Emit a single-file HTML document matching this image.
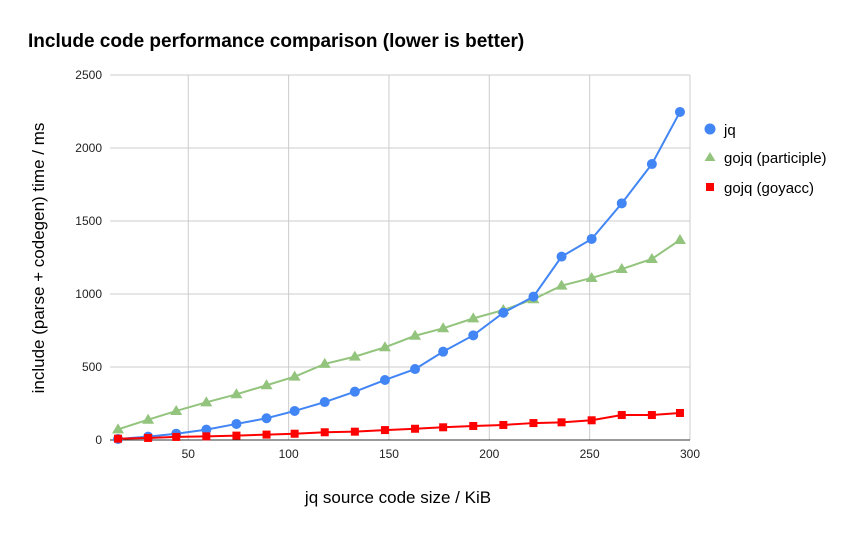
<!DOCTYPE html>
<html><head><meta charset="utf-8"><style>
body{margin:0;background:#fff;}
svg{font-family:"Liberation Sans",Arial,sans-serif;display:block}
</style></head><body>
<svg id="chart" width="849" height="536" viewBox="0 0 849 536">
<rect width="849" height="536" fill="#fff"/>
<text x="28" y="47" font-size="19" font-weight="bold" fill="#000">Include code performance comparison (lower is better)</text>
<g id="grid"></g><g id="series"></g><g id="ticks"></g>
<text x="398" y="503" font-size="17" text-anchor="middle" fill="#000">jq source code size / KiB</text>
<text transform="translate(44,258) rotate(-90)" font-size="17" text-anchor="middle" fill="#000">include (parse + codegen) time / ms</text>
<g>
<g><circle cx="710" cy="129" r="5.5" fill="#4285f4"/><text x="724" y="135" font-size="15">jq</text></g>
<g><polygon points="710,152 704.5,161 715.5,161" fill="#93c47d"/><text x="724" y="163" font-size="15">gojq (participle)</text></g>
<g><rect x="706" y="183" width="8" height="8" fill="#ff0000"/><text x="724" y="193" font-size="15">gojq (goyacc)</text></g>
</g>
</svg>
<script>
const sizes=[15,30,44,59,74,89,103,118,133,148,163,177,192,207,222,236,251,266,281,295];
const jq=[7,23,43,71,110,149,199,260,331,411,486,605,717,872,982,1256,1377,1621,1890,2247];
const participle=[73,139,199,258,313,375,434,521,571,635,714,765,833,890,964,1057,1110,1171,1240,1370];
const goyacc=[9,14,21,25,30,37,43,53,57,68,77,87,96,103,116,121,135,171,171,185];
const xTicks=[50,100,150,200,250,300];
const yTicks=[0,500,1000,1500,2000,2500];
const NS="http://www.w3.org/2000/svg";
const X0=110,X1=690,XMIN=11,XMAX=300,Y0=440,Y1=75,YMAX=2500;
const xs=v=>X0+(v-XMIN)/(XMAX-XMIN)*(X1-X0);
const ys=v=>Y0-v/YMAX*(Y0-Y1);
function mk(tag,attrs,parent){const e=document.createElementNS(NS,tag);for(const k in attrs)e.setAttribute(k,attrs[k]);parent.appendChild(e);return e;}
const grid=document.getElementById('grid'),ticks=document.getElementById('ticks'),ser=document.getElementById('series');
yTicks.forEach(v=>{
 if(v>0){const l=mk('line',{x1:X0,x2:X1,y1:ys(v),y2:ys(v),stroke:'#ccc','stroke-width':1},grid);
 
 }
 const t=mk('text',{x:102,y:ys(v)+4,'font-size':12,'text-anchor':'end',fill:'#222'},ticks);t.textContent=v;
 
 
});
xTicks.forEach(v=>{
 const l=mk('line',{x1:xs(v),x2:xs(v),y1:Y1,y2:Y0,stroke:'#ccc','stroke-width':1},grid);
 
 
 const t=mk('text',{x:xs(v),y:458,'font-size':12,'text-anchor':'middle',fill:'#222'},ticks);t.textContent=v;
 
 
});
const ax=mk('line',{x1:X0,x2:X1,y1:Y0,y2:Y0,stroke:'#333','stroke-width':1},grid);


function series(vals,color,shape,name){
 const g=mk('g',{},ser);
 
 
 const pl=mk('polyline',{points:vals.map((v,i)=>xs(sizes[i])+','+ys(v)).join(' '),fill:'none',stroke:color,'stroke-width':2},g);
 
 
 vals.forEach((v,i)=>{
  const x=xs(sizes[i]),y=ys(v);let m;
  if(shape==='circle')m=mk('circle',{cx:x,cy:y,r:5,fill:color},g);
  else if(shape==='tri')m=mk('polygon',{points:`${x},${y-6} ${x-6},${y+4} ${x+6},${y+4}`,fill:color},g);
  else m=mk('rect',{x:x-4,y:y-4,width:8,height:8,fill:color},g);
  
  
 });
}
series(participle,'#93c47d','tri','gojq-participle');
series(jq,'#4285f4','circle','jq');
series(goyacc,'#ff0000','rect','gojq-goyacc');
</script>
</body></html>
